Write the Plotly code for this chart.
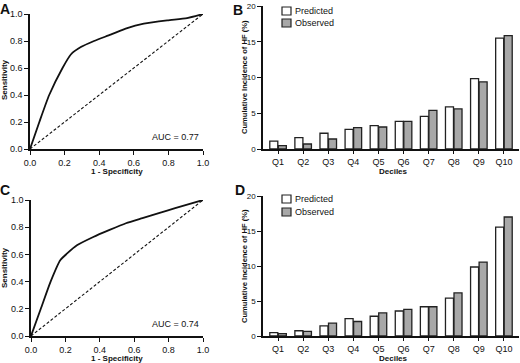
import plotly.graph_objects as go

# ---------------- data ----------------
roc_a_fpr = [0.0, 0.054, 0.111, 0.188, 0.236, 0.294, 0.37, 0.466, 0.562, 0.658, 0.793, 0.908, 1.0]
roc_a_tpr = [0.0, 0.20, 0.40, 0.60, 0.70, 0.755, 0.80, 0.847, 0.896, 0.928, 0.953, 0.97, 1.0]
roc_c_fpr = [0.0, 0.057, 0.114, 0.171, 0.21, 0.267, 0.362, 0.457, 0.552, 0.648, 0.743, 0.838, 1.0]
roc_c_tpr = [0.0, 0.20, 0.40, 0.559, 0.607, 0.667, 0.728, 0.78, 0.829, 0.867, 0.904, 0.94, 1.0]
auc_a = "AUC = 0.77"
auc_c = "AUC = 0.74"

deciles = ["Q1", "Q2", "Q3", "Q4", "Q5", "Q6", "Q7", "Q8", "Q9", "Q10"]
b_predicted = [1.1, 1.6, 2.2, 2.75, 3.26, 3.87, 4.57, 5.9, 9.83, 15.5]
b_observed = [0.46, 0.7, 1.4, 3.0, 3.08, 3.87, 5.4, 5.6, 9.4, 15.85]
d_predicted = [0.47, 0.75, 1.46, 2.49, 2.82, 3.57, 4.18, 5.4, 9.86, 15.54]
d_observed = [0.33, 0.66, 1.83, 2.07, 3.29, 3.8, 4.18, 6.15, 10.56, 17.0]
series_names = ["Predicted", "Observed"]

roc_ticks = [0.0, 0.2, 0.4, 0.6, 0.8, 1.0]
bar_ticks = [0, 5, 10, 15, 20]

W, H = 520, 363
def px_x(a, b):
    return [a / W, b / W]
def px_y(top, bottom):
    return [1 - bottom / H, 1 - top / H]

FONT = "Liberation Sans, Arial, sans-serif"
BLACK = "#111111"
EDGE = "#222222"
GRAY = "#a8a8a8"
FILLS = ["white", GRAY]

fig = go.Figure()

# ROC curves
for fpr, tpr, xa, ya in [(roc_a_fpr, roc_a_tpr, "x", "y"), (roc_c_fpr, roc_c_tpr, "x3", "y3")]:
    fig.add_trace(go.Scatter(x=[0, 1], y=[0, 1], mode="lines", xaxis=xa, yaxis=ya,
                             line=dict(color=BLACK, width=1.1, dash="3px,2px"),
                             showlegend=False, cliponaxis=False, hoverinfo="skip"))
    fig.add_trace(go.Scatter(x=fpr, y=tpr, mode="lines", xaxis=xa, yaxis=ya,
                             line=dict(color=BLACK, width=1.8, shape="spline", smoothing=0.6),
                             showlegend=False, cliponaxis=False))

# Bars
for pred, obs, xa, ya in [(b_predicted, b_observed, "x2", "y2"),
                          (d_predicted, d_observed, "x4", "y4")]:
    for vals, name, fill in zip([pred, obs], series_names, FILLS):
        fig.add_trace(go.Bar(x=deciles, y=vals, name=name, xaxis=xa, yaxis=ya, showlegend=False,
                             marker=dict(color=fill, line=dict(color=EDGE, width=1.3))))

tickfont = dict(family=FONT, size=9, color=BLACK)

common = dict(ticks="outside", tickcolor=BLACK, showline=True, linecolor=BLACK, linewidth=1.5,
              showgrid=False, zeroline=False, automargin=False)

def roc_x(domain, anchor):
    return dict(domain=domain, anchor=anchor, range=[0, 1], tickvals=roc_ticks, tickformat=".1f",
                ticklen=4, tickwidth=1.3, tickfont=tickfont, **common)
def roc_y(domain, anchor):
    return dict(domain=domain, anchor=anchor, range=[0, 1], tickvals=roc_ticks, tickformat=".1f",
                ticklen=4, tickwidth=1.3, tickfont=tickfont, **common)
def bar_x(domain, anchor):
    return dict(domain=domain, anchor=anchor, range=[-0.6, 9.6], type="category",
                ticklen=3, tickwidth=1.2, tickfont=dict(family=FONT, size=9, color=BLACK), **common)
def bar_y(domain, anchor):
    return dict(domain=domain, anchor=anchor, range=[0, 20], tickvals=bar_ticks,
                ticklen=4, tickwidth=1.3, tickfont=dict(family=FONT, size=8, color=BLACK), **common)

fig.update_layout(
    template="none",
    width=W, height=H, margin=dict(l=0, r=0, t=0, b=0, autoexpand=False),
    paper_bgcolor="white", plot_bgcolor="white",
    barmode="group", bargap=0.32, bargroupgap=0.06,
    xaxis=roc_x(px_x(30, 203), "y"), yaxis=roc_y(px_y(14, 149), "x"),
    xaxis2=bar_x(px_x(263, 519), "y2"), yaxis2=bar_y(px_y(6, 149), "x2"),
    xaxis3=roc_x(px_x(31, 203), "y3"), yaxis3=roc_y(px_y(200, 336), "x3"),
    xaxis4=bar_x(px_x(263, 519), "y4"), yaxis4=bar_y(px_y(196, 336), "x4"),
    showlegend=False,
)

def text_px(text, x, y, size, bold=False, angle=0, xanchor="center"):
    fig.add_annotation(text=text, xref="paper", yref="paper", x=x / W, y=1 - y / H,
                       xanchor=xanchor, yanchor="middle", showarrow=False, textangle=angle,
                       borderpad=0,
                       font=dict(family=FONT, size=size, color=BLACK,
                                 weight="bold" if bold else "normal"))

# Axis titles
TS = 8
text_px("1 - Specificity", 117, 171, TS, bold=True)
text_px("1 - Specificity", 117, 358, TS, bold=True)
text_px("Sensitivity", 4, 80, TS, bold=True, angle=-90)
text_px("Sensitivity", 4, 268, TS, bold=True, angle=-90)
text_px("Deciles", 393, 171, TS, bold=True)
text_px("Deciles", 393, 358, TS, bold=True)
text_px("Cumulative Incidence of HF (%)", 244, 77, 7.6, bold=True, angle=-90)
text_px("Cumulative Incidence of HF (%)", 244, 266, 7.6, bold=True, angle=-90)

# AUC labels
fig.add_annotation(text=auc_a, xref="x", yref="y", x=0.99, y=0.09, xanchor="right", showarrow=False,
                   font=dict(family=FONT, size=9, color=BLACK))
fig.add_annotation(text=auc_c, xref="x3", yref="y3", x=0.99, y=0.09, xanchor="right", showarrow=False,
                   font=dict(family=FONT, size=9, color=BLACK))

# Legends (swatch + label) for the two bar panels
for ys in [(11, 23), (199, 212)]:
    for yc, name, fill in zip(ys, series_names, FILLS):
        fig.add_shape(type="rect", xref="paper", yref="paper",
                      x0=282 / W, x1=291 / W, y0=1 - (yc + 4) / H, y1=1 - (yc - 4) / H,
                      fillcolor=fill, line=dict(color=EDGE, width=1.2))
        text_px(name, 294, yc, 9, xanchor="left")

# Panel letters
for letter, x, y in [("A", 5, 9), ("B", 238, 10), ("C", 5, 190), ("D", 240, 190)]:
    text_px(letter, x, y, 14, bold=True)

fig.write_html("out.html", config={"displayModeBar": False},
               post_script="document.body.style.margin='0';document.body.style.overflow='hidden';")
